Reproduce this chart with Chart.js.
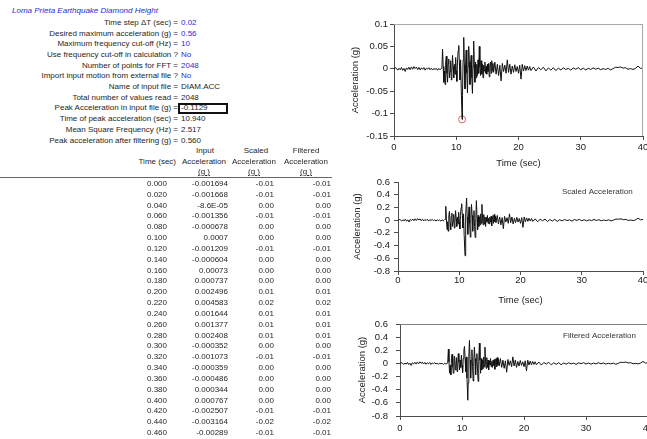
<!DOCTYPE html>
<html>
<head>
<meta charset="utf-8">
<script src="https://cdn.jsdelivr.net/npm/chart.js@4.4.1/dist/chart.umd.min.js"></script>
<style>
  html, body { margin: 0; padding: 0; background: #fff; width: 647px; height: 439px; overflow: hidden; }
  body { position: relative; font-family: "Liberation Sans", Arial, sans-serif; font-size: 8px; color: #262626; }
  .t { position: absolute; white-space: nowrap; line-height: 10px; }
  .blue { color: #2a2ad8; }
  .title { font-style: italic; color: #2a2ad8; }
  .ul { text-decoration: underline; }
  #peakBox { position: absolute; left: 178px; top: 103px; width: 46px; height: 7px; border: 2px solid #111; }
  #rule { position: absolute; left: 0; top: 177px; width: 332px; height: 1px; background: #666; }
  canvas { position: absolute; }
</style>
</head>
<body>
<div id="peakBox"></div>
<div id="rule"></div>
<canvas id="inputChart" width="330" height="175" style="left:340px;top:0px"></canvas>
<canvas id="scaledChart" width="330" height="160" style="left:340px;top:150px"></canvas>
<canvas id="filteredChart" width="330" height="160" style="left:340px;top:300px"></canvas>
<script>
// record header
const sheetTitle = 'Loma Prieta Earthquake Diamond Height';
const peakTime = 10.94;
const peakAcc = -0.1129;
const paramLabels = [
  'Time step \u0394T (sec) =',
  'Desired maximum acceleration (g) =',
  'Maximum frequency cut-off (Hz) =',
  'Use frequency cut-off in calculation ?',
  'Number of points for FFT =',
  'Import input motion from external file ?',
  'Name of input file =',
  'Total number of values read =',
  'Peak Acceleration in input file (g) =',
  'Time of peak acceleration (sec) =',
  'Mean Square Frequency (Hz) =',
  'Peak acceleration after filtering (g) ='
];
const paramValues = ['0.02', '0.56', '10', 'No', '2048', 'No', 'DIAM.ACC', '2048',
  peakAcc.toFixed(4), peakTime.toFixed(3), '2.517', '0.560'];
const userInputCount = 6; // first rows are user inputs (blue)

// first rows of the data table
const tableTime = ['0.000', '0.020', '0.040', '0.060', '0.080', '0.100', '0.120', '0.140', '0.160', '0.180', '0.200', '0.220',
  '0.240', '0.260', '0.280', '0.300', '0.320', '0.340', '0.360', '0.380', '0.400', '0.420', '0.440', '0.460'];
const tableInput = ['-0.001694', '-0.001668', '-8.6E-05', '-0.001356', '-0.000678', '0.0007', '-0.001209', '-0.000604',
  '0.00073', '0.000737', '0.002496', '0.004583', '0.001644', '0.001377', '0.002408', '-0.000352', '-0.001073',
  '-0.000359', '-0.000486', '0.000344', '0.000767', '-0.002507', '-0.003164', '-0.00289'];
const tableScaled = ['-0.01', '-0.01', '0.00', '-0.01', '0.00', '0.00', '-0.01', '0.00', '0.00', '0.00', '0.01', '0.02',
  '0.01', '0.01', '0.01', '0.00', '-0.01', '0.00', '0.00', '0.00', '0.00', '-0.01', '-0.02', '-0.01'];
const tableFiltered = ['-0.01', '-0.01', '0.00', '-0.01', '0.00', '0.00', '-0.01', '0.00', '0.00', '0.00', '0.01', '0.02',
  '0.01', '0.01', '0.01', '0.00', '-0.01', '0.00', '0.00', '0.00', '0.00', '-0.01', '-0.02', '-0.01'];

// acceleration records (time in sec, acceleration in g)
const timeSec = [
  0, 0.2, 0.4, 0.6, 0.8, 1, 1.2, 1.4, 1.6, 1.8,
  2, 2.2, 2.4, 2.6, 2.8, 3, 3.2, 3.4, 3.6, 3.8,
  4, 4.2, 4.4, 4.6, 4.8, 5, 5.2, 5.4, 5.6, 5.8,
  6, 6.2, 6.4, 6.6, 6.8, 7, 7.2, 7.4, 7.6,
  7.7, 7.8, 7.9, 8, 8.1, 8.2, 8.3, 8.4, 8.5, 8.6,
  8.7, 8.8, 8.9, 9, 9.1, 9.2, 9.3, 9.4, 9.5, 9.6,
  9.7, 9.8, 9.9, 10, 10.1, 10.2, 10.3, 10.4, 10.5, 10.6,
  10.7, 10.8, 10.94, 11, 11.1, 11.2, 11.3, 11.4, 11.5, 11.6,
  11.7, 11.8, 11.9, 12, 12.1, 12.2, 12.3, 12.4, 12.5, 12.6,
  12.7, 12.8, 12.9, 13, 13.1, 13.2, 13.3, 13.4, 13.5, 13.6,
  13.7, 13.8, 13.9, 14, 14.1, 14.2, 14.3, 14.4, 14.5, 14.6,
  14.7, 14.8, 14.9, 15, 15.1, 15.2, 15.3, 15.4, 15.5, 15.6,
  15.7, 15.8, 15.9, 16,
  16.2, 16.4, 16.6, 16.8, 17, 17.2, 17.4, 17.6, 17.8, 18,
  18.2, 18.4, 18.6, 18.8, 19, 19.2, 19.4, 19.6, 19.8, 20,
  20.2, 20.4, 20.6, 20.8, 21, 21.2, 21.4, 21.6, 21.8, 22,
  22.4, 22.8, 23.2, 23.6, 24, 24.4, 24.8, 25.2, 25.6, 26,
  26.4, 26.8, 27.2, 27.6, 28, 28.4, 28.8, 29.2, 29.6, 30,
  30.4, 30.8, 31.2, 31.6, 32, 32.4, 32.8, 33.2, 33.6, 34,
  34.4, 34.8, 35.2, 35.6, 36, 36.4, 36.8, 37.2, 37.6, 38,
  38.4, 38.8, 39.2, 39.6, 40
];

const inputAcc = [
  -0.0017, 0.0025, 0.0008, -0.0030, 0.0012, -0.0022, 0.0030, -0.0035, 0.0010, -0.0060,
  0.0020, -0.0015, 0.0035, -0.0020, 0.0042, -0.0010, 0.0048, 0.0005, 0.0038, -0.0018,
  0.0030, -0.0025, 0.0022, -0.0012, 0.0028, -0.0030, 0.0015, -0.0008, 0.0025, -0.0020,
  0.0012, -0.0028, 0.0010, -0.0015, 0.0006, -0.0032, 0.0008, -0.0022, 0.0010,
  0.0030, 0.0440, 0.0050, -0.0300, -0.0050, -0.0350, 0.0150, 0.0280, -0.0100, -0.0300,
  0.0120, 0.0220, -0.0200, -0.0050, 0.0180, -0.0250, -0.0080, 0.0300, 0.0050, -0.0200,
  0.0100, -0.0120, 0.0250, -0.0050, -0.0280, 0.0150, 0.0400, 0.0520, 0.0150, -0.0250,
  0.0200, -0.0450, -0.1129, -0.0600, 0.0200, 0.0700, 0.0100, -0.0450, 0.0100, 0.0420,
  -0.0100, -0.0540, 0.0050, 0.0500, 0.0150, -0.0350, 0.0100, 0.0300, -0.0200, -0.0550,
  0.0050, 0.0620, 0.0100, -0.0300, 0.0150, -0.0200, 0.0100, -0.0150, 0.0200, -0.0100,
  0.0500, 0.0050, -0.0150, 0.0180, -0.0120, 0.0100, -0.0200, 0.0080, -0.0050, 0.0150,
  -0.0100, 0.0060, -0.0120, 0.0100, -0.0060, 0.0120, -0.0180, 0.0080, 0.0150, -0.0100,
  0.0180, -0.0050, 0.0120, -0.0080,
  0.0150, -0.0120, 0.0100, -0.0150, 0.0080, -0.0270, 0.0120, -0.0060, 0.0080, -0.0100,
  0.0200, -0.0080, 0.0100, -0.0120, 0.0060, -0.0080, 0.0090, -0.0060, 0.0050, -0.0100,
  0.0080, -0.0230, 0.0100, -0.0050, 0.0070, -0.0040, 0.0060, -0.0030, 0.0050, -0.0040,
  0.0040, -0.0050, 0.0030, -0.0020, 0.0035, -0.0045, 0.0020, -0.0030, 0.0025, -0.0040,
  0.0015, -0.0025, 0.0020, -0.0015, 0.0010, -0.0030, 0.0020, -0.0010, 0.0025, -0.0020,
  0.0015, -0.0025, 0.0010, -0.0015, 0.0020, -0.0010, 0.0015, -0.0020, 0.0005, -0.0015,
  0.0010, -0.0025, 0.0005, 0.0035, 0.0030, 0.0040, 0.0015, 0.0025, -0.0010, 0.0005,
  -0.0015, 0.0010, 0.0060, 0.0010, 0.0020
];

const scaledAcc = [
  -0.008, 0.012, 0.004, -0.015, 0.006, -0.011, 0.015, -0.017, 0.005, -0.030,
  0.010, -0.007, 0.017, -0.010, 0.021, -0.005, 0.024, 0.002, 0.019, -0.009,
  0.015, -0.012, 0.011, -0.006, 0.014, -0.015, 0.007, -0.004, 0.012, -0.010,
  0.006, -0.014, 0.005, -0.007, 0.003, -0.016, 0.004, -0.011, 0.005,
  0.015, 0.218, 0.025, -0.149, -0.025, -0.174, 0.074, 0.139, -0.050, -0.149,
  0.060, 0.109, -0.099, -0.025, 0.089, -0.124, -0.040, 0.149, 0.025, -0.099,
  0.050, -0.060, 0.124, -0.025, -0.139, 0.074, 0.198, 0.258, 0.074, -0.124,
  0.099, -0.223, -0.560, -0.298, 0.099, 0.347, 0.050, -0.223, 0.050, 0.208,
  -0.050, -0.268, 0.025, 0.248, 0.074, -0.174, 0.050, 0.149, -0.099, -0.273,
  0.025, 0.308, 0.050, -0.149, 0.074, -0.099, 0.050, -0.074, 0.099, -0.050,
  0.248, 0.025, -0.074, 0.089, -0.060, 0.050, -0.099, 0.040, -0.025, 0.074,
  -0.050, 0.030, -0.060, 0.050, -0.030, 0.060, -0.089, 0.040, 0.074, -0.050,
  0.089, -0.025, 0.060, -0.040,
  0.074, -0.060, 0.050, -0.074, 0.040, -0.134, 0.060, -0.030, 0.040, -0.050,
  0.099, -0.040, 0.050, -0.060, 0.030, -0.040, 0.045, -0.030, 0.025, -0.050,
  0.040, -0.114, 0.050, -0.025, 0.035, -0.020, 0.030, -0.015, 0.025, -0.020,
  0.020, -0.025, 0.015, -0.010, 0.017, -0.022, 0.010, -0.015, 0.012, -0.020,
  0.007, -0.012, 0.010, -0.007, 0.005, -0.015, 0.010, -0.005, 0.012, -0.010,
  0.007, -0.012, 0.005, -0.007, 0.010, -0.005, 0.007, -0.010, 0.002, -0.007,
  0.005, -0.012, 0.002, 0.017, 0.015, 0.020, 0.007, 0.012, -0.005, 0.002,
  -0.007, 0.005, 0.030, 0.005, 0.010
];

const filteredAcc = [
  -0.008, 0.012, 0.004, -0.015, 0.006, -0.011, 0.015, -0.017, 0.005, -0.030,
  0.010, -0.007, 0.017, -0.010, 0.021, -0.005, 0.024, 0.002, 0.019, -0.009,
  0.015, -0.012, 0.011, -0.006, 0.014, -0.015, 0.007, -0.004, 0.012, -0.010,
  0.006, -0.014, 0.005, -0.007, 0.003, -0.016, 0.004, -0.011, 0.005,
  0.015, 0.218, 0.025, -0.149, -0.025, -0.174, 0.074, 0.139, -0.050, -0.149,
  0.060, 0.109, -0.099, -0.025, 0.089, -0.124, -0.040, 0.149, 0.025, -0.099,
  0.050, -0.060, 0.124, -0.025, -0.139, 0.074, 0.198, 0.258, 0.074, -0.124,
  0.099, -0.223, -0.560, -0.298, 0.099, 0.350, 0.050, -0.223, 0.050, 0.208,
  -0.050, -0.268, 0.025, 0.248, 0.074, -0.174, 0.050, 0.149, -0.099, -0.273,
  0.025, 0.308, 0.050, -0.149, 0.074, -0.099, 0.050, -0.074, 0.099, -0.050,
  0.248, 0.025, -0.074, 0.089, -0.060, 0.050, -0.099, 0.040, -0.025, 0.074,
  -0.050, 0.030, -0.060, 0.050, -0.030, 0.060, -0.089, 0.040, 0.074, -0.050,
  0.089, -0.025, 0.060, -0.040,
  0.074, -0.060, 0.050, -0.074, 0.040, -0.134, 0.060, -0.030, 0.040, -0.050,
  0.099, -0.040, 0.050, -0.060, 0.030, -0.040, 0.045, -0.030, 0.025, -0.050,
  0.040, -0.114, 0.050, -0.025, 0.035, -0.020, 0.030, -0.015, 0.025, -0.020,
  0.020, -0.025, 0.015, -0.010, 0.017, -0.022, 0.010, -0.015, 0.012, -0.020,
  0.007, -0.012, 0.010, -0.007, 0.005, -0.015, 0.010, -0.005, 0.012, -0.010,
  0.007, -0.012, 0.005, -0.007, 0.010, -0.005, 0.007, -0.010, 0.002, -0.007,
  0.005, -0.012, 0.002, 0.017, 0.015, 0.020, 0.007, 0.012, -0.005, 0.002,
  -0.007, 0.005, 0.030, 0.005, 0.010
];

// axis ranges: [min, max, step]
const timeAxis = [0, 40, 10];
const inputAxis = [-0.15, 0.1, 0.05];
const scaledAxis = [-0.8, 0.6, 0.2];

// ---- spreadsheet text ----
function put(text, x, cy, align, cls) {
  const d = document.createElement('div');
  d.className = 't' + (cls ? ' ' + cls : '');
  d.textContent = text;
  d.style.left = x + 'px';
  d.style.top = (cy - 5) + 'px';
  if (align === 'right') d.style.transform = 'translateX(-100%)';
  if (align === 'center') d.style.transform = 'translateX(-50%)';
  document.body.appendChild(d);
  return d;
}

put(sheetTitle, 12, 11, 'left', 'title');
paramLabels.forEach((lab, i) => {
  const cy = 22.8 + i * 10.7;
  put(lab, 178, cy, 'right');
  put(paramValues[i], 181, cy, 'left', i < userInputCount ? 'blue' : '');
});

put('Input', 205, 151, 'center');
put('Scaled', 256, 151, 'center');
put('Filtered', 306, 151, 'center');
put('Time (sec)', 176, 162, 'right');
put('Acceleration', 204, 162, 'center');
put('Acceleration', 254, 162, 'center');
put('Acceleration', 306, 162, 'center');
put('(g )', 204, 172, 'center', 'ul');
put('(g )', 254, 172, 'center', 'ul');
put('(g )', 306, 172, 'center', 'ul');

tableTime.forEach((t, i) => {
  const cy = 184 + i * 10.83;
  put(t, 167, cy, 'right');
  put(tableInput[i], 228, cy, 'right');
  put(tableScaled[i], 274, cy, 'right');
  put(tableFiltered[i], 331, cy, 'right');
});

// ---- charts ----
Chart.defaults.font.family = '"Liberation Sans", Arial, sans-serif';

const tickFont = { size: 9.5 };
const axisColor = '#4d4d4d';
const fmt = v => String(Number(Number(v).toFixed(2)));

// plot-area edges and the small label inside the plot
const framePlugin = {
  id: 'frame',
  afterDatasetsDraw(chart, args, opts) {
    const { ctx, chartArea: a } = chart;
    ctx.save();
    ctx.strokeStyle = opts.color || '#999';
    ctx.lineWidth = 1;
    ctx.beginPath();
    if (opts.top) { ctx.moveTo(a.left, Math.round(a.top) + 0.5); ctx.lineTo(a.right, Math.round(a.top) + 0.5); }
    if (opts.right) { ctx.moveTo(Math.round(a.right) - 0.5, a.top); ctx.lineTo(Math.round(a.right) - 0.5, a.bottom); }
    ctx.stroke();
    if (opts.note) {
      ctx.font = '8px "Liberation Sans", Arial, sans-serif';
      ctx.fillStyle = '#333';
      ctx.textAlign = 'left';
      ctx.textBaseline = 'middle';
      ctx.fillText(opts.note, a.left + opts.noteX, a.top + opts.noteY);
    }
    ctx.restore();
  }
};

function seismoChart(id, series, yAxis, o) {
  const datasets = [{
    data: timeSec.map((t, i) => ({ x: t, y: series[i] })),
    borderColor: '#111',
    borderWidth: 1,
    pointRadius: 0,
    tension: 0
  }];
  if (o.peak) {
    datasets.push({
      data: [{ x: peakTime, y: peakAcc }],
      showLine: false,
      pointRadius: 3.5,
      pointBorderWidth: 1,
      pointBorderColor: '#e06060',
      pointBackgroundColor: 'rgba(255,255,255,0)'
    });
  }
  return new Chart(document.getElementById(id), {
    type: 'line',
    data: { datasets },
    plugins: [framePlugin],
    options: {
      responsive: false,
      animation: false,
      devicePixelRatio: 1,
      layout: { padding: { top: o.top, right: o.right, left: 0, bottom: 0 } },
      plugins: { legend: { display: false }, tooltip: { enabled: false }, frame: o.frame },
      scales: {
        x: {
          type: 'linear',
          min: timeAxis[0], max: timeAxis[1],
          ticks: { stepSize: timeAxis[2], padding: o.xPad, color: '#1a1a1a', font: tickFont, maxRotation: 0, autoSkip: false },
          grid: { drawOnChartArea: false, drawTicks: true, tickLength: 4, color: axisColor },
          border: { color: axisColor, width: 1 },
          title: { display: o.xTitle, text: 'Time (sec)', color: '#1a1a1a', font: tickFont, padding: { top: 0, bottom: o.xTitlePad } },
          afterFit(s) { s.height = o.xh; s.paddingLeft = 0; s.paddingRight = 0; }
        },
        y: {
          min: yAxis[0], max: yAxis[1],
          ticks: { stepSize: yAxis[2], padding: o.yPad, color: '#1a1a1a', font: tickFont, callback: fmt, autoSkip: false },
          grid: { drawOnChartArea: false, drawTicks: true, tickLength: 4, color: axisColor },
          border: { color: axisColor, width: 1 },
          title: { display: true, text: 'Acceleration (g)', color: '#1a1a1a', font: tickFont, padding: { top: o.yTitlePad, bottom: 0 } },
          afterFit(s) { s.width = o.yw; s.paddingTop = 0; s.paddingBottom = 0; }
        }
      }
    }
  });
}

seismoChart('inputChart', inputAcc, inputAxis, {
  peak: true, top: 24, right: 27, yw: 54, xh: 39, xPad: 2, yPad: 2,
  xTitle: true, xTitlePad: 6, yTitlePad: 10,
  frame: { top: true, right: true, color: '#a8a8a8' }
});
seismoChart('scaledChart', scaledAcc, scaledAxis, {
  peak: false, top: 32, right: 27, yw: 58, xh: 39, xPad: 0, yPad: 4,
  xTitle: true, xTitlePad: 4, yTitlePad: 12,
  frame: { note: 'Scaled Acceleration', noteX: 164, noteY: 10 }
});
seismoChart('filteredChart', filteredAcc, scaledAxis, {
  peak: false, top: 24, right: 22, yw: 60, xh: 44, xPad: 3, yPad: 8,
  xTitle: false, xTitlePad: 4, yTitlePad: 17,
  frame: { top: true, color: '#808080', note: 'Filtered Acceleration', noteX: 163, noteY: 12 }
});
</script>
</body>
</html>
